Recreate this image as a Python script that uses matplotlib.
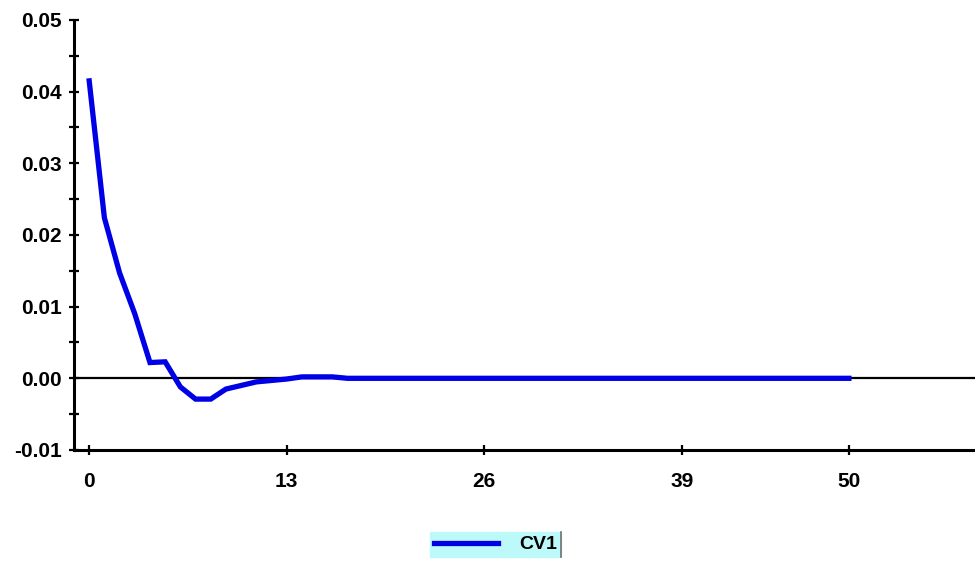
import matplotlib
matplotlib.use("Agg")
import matplotlib.pyplot as plt
from matplotlib.lines import Line2D
from matplotlib.ticker import MultipleLocator, FixedLocator

plt.rcParams['font.family'] = ['Liberation Sans', 'DejaVu Sans']
plt.rcParams['font.weight'] = 'bold'
plt.rcParams['axes.unicode_minus'] = False

# series
steps = list(range(51))
cv1 = [0.0415, 0.0224, 0.0147, 0.0090, 0.0022, 0.0023, -0.0012, -0.0029, -0.0029, -0.0015,
       -0.0010, -0.0005, -0.0003, -0.0001, 0.0002, 0.0002, 0.0002] + [0.0] * 34
x_ticks = [0, 13, 26, 39, 50]
series_name = 'CV1'

fig = plt.figure(figsize=(9.75, 5.61), dpi=100)
ax = fig.add_axes([0.0759, 0.1979, 0.9241, 0.7665])

ax.axhline(0, color='black', lw=1.6, zorder=1)
ax.plot(steps, cv1, color='#0000e6', lw=3.8, solid_joinstyle='miter', label=series_name, zorder=2)

ax.set_xlim(-1.0, 58.3)
ax.set_ylim(-0.01, 0.05)
ax.yaxis.set_major_locator(MultipleLocator(0.01))
ax.yaxis.set_minor_locator(MultipleLocator(0.005))
ax.yaxis.set_major_formatter(lambda v, p: f'{v:.2f}')
ax.xaxis.set_major_locator(FixedLocator(x_ticks))

for s in ('top', 'right'):
    ax.spines[s].set_visible(False)
for s in ('left', 'bottom'):
    ax.spines[s].set_linewidth(2.2)

ax.tick_params(axis='both', which='both', direction='inout', width=1.6, labelsize=15)
ax.tick_params(axis='y', which='both', length=7, pad=5)
ax.tick_params(axis='x', which='major', length=7, pad=12)

leg = ax.legend(loc='upper center', bbox_to_anchor=(0.508, 0.052), bbox_transform=fig.transFigure,
                fancybox=False, framealpha=1, facecolor='#bdf9f9', edgecolor='#bdf9f9',
                handlelength=3.3, fontsize=14, borderpad=0.2, handletextpad=1.1,
                borderaxespad=0)

# darker right edge of the legend box, as in the original widget
fig.canvas.draw()
bb = leg.get_window_extent().transformed(fig.transFigure.inverted())
fig.add_artist(Line2D([bb.x1, bb.x1], [bb.y0, bb.y1], transform=fig.transFigure,
                      color='#707070', lw=1.2))

fig.savefig('out.png', dpi=100)
